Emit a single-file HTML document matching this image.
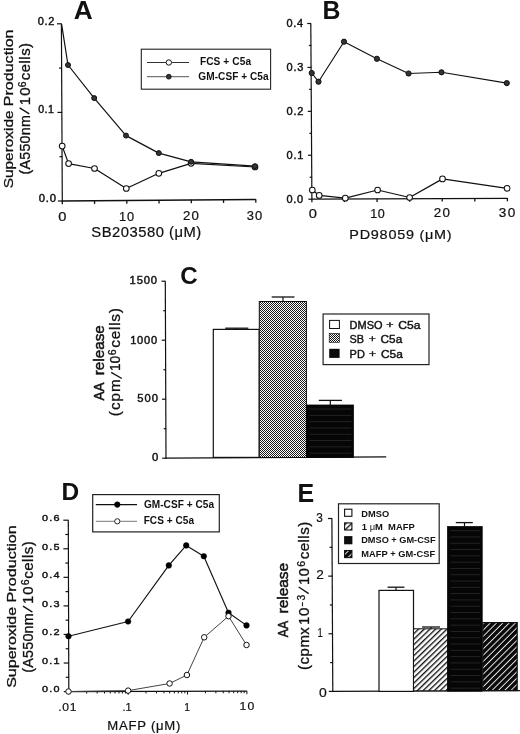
<!DOCTYPE html>
<html><head><meta charset="utf-8"><style>
html,body{margin:0;padding:0;background:#fff;}
svg{display:block;font-family:"Liberation Sans", sans-serif;will-change:transform;}
</style></head><body>
<svg width="520" height="734" viewBox="0 0 520 734">
<rect width="520" height="734" fill="#fff"/>
<defs><pattern id="chk" width="2" height="2" patternUnits="userSpaceOnUse"><rect width="2" height="2" fill="#fff"/><rect width="1" height="1" fill="#181818"/><rect x="1" y="1" width="1" height="1" fill="#181818"/></pattern><pattern id="h1" width="3.95" height="3.95" patternUnits="userSpaceOnUse" patternTransform="rotate(46)"><rect width="3.95" height="3.95" fill="#fff"/><rect width="1.35" height="3.95" fill="#111"/></pattern><pattern id="h2" width="4.45" height="4.45" patternUnits="userSpaceOnUse" patternTransform="rotate(45)"><rect width="4.45" height="4.45" fill="#eee"/><rect width="3.5" height="4.45" fill="#0a0a0a"/></pattern><pattern id="blk" width="40" height="6.3" patternUnits="userSpaceOnUse"><rect width="40" height="6.3" fill="#0a0a0a"/><rect x="4" y="3" width="28" height="1" fill="#2c2c2c"/></pattern></defs>
<text transform="translate(73.68,18.50) scale(1.0301,1)" font-size="25.5" font-weight="700" style="letter-spacing:0.000px;white-space:pre" fill="#111" >A</text>
<line x1="62.30" y1="201.00" x2="61.40" y2="23.80" stroke="#111" stroke-width="1.2" />
<line x1="57.90" y1="201.00" x2="62.60" y2="201.00" stroke="#111" stroke-width="1.2" />
<line x1="59.47" y1="156.70" x2="62.37" y2="156.70" stroke="#111" stroke-width="1.2" />
<line x1="57.45" y1="112.40" x2="62.15" y2="112.40" stroke="#111" stroke-width="1.2" />
<line x1="59.02" y1="68.10" x2="61.92" y2="68.10" stroke="#111" stroke-width="1.2" />
<line x1="57.00" y1="23.80" x2="61.70" y2="23.80" stroke="#111" stroke-width="1.2" />
<line x1="61.80" y1="201.00" x2="255.80" y2="199.50" stroke="#111" stroke-width="1.3" />
<line x1="62.30" y1="200.70" x2="62.30" y2="204.20" stroke="#111" stroke-width="1.3" />
<line x1="94.55" y1="200.45" x2="94.55" y2="203.95" stroke="#111" stroke-width="1.3" />
<line x1="126.80" y1="200.20" x2="126.80" y2="203.70" stroke="#111" stroke-width="1.3" />
<line x1="159.05" y1="199.95" x2="159.05" y2="203.45" stroke="#111" stroke-width="1.3" />
<line x1="191.30" y1="199.70" x2="191.30" y2="203.20" stroke="#111" stroke-width="1.3" />
<line x1="223.55" y1="199.45" x2="223.55" y2="202.95" stroke="#111" stroke-width="1.3" />
<line x1="255.80" y1="199.20" x2="255.80" y2="202.70" stroke="#111" stroke-width="1.3" />
<text transform="translate(38.66,201.50) scale(1.1288,1)" font-size="10.0" font-weight="400" style="letter-spacing:0.749px;white-space:pre" fill="#111" stroke="#111" stroke-width="0.4">0.0</text>
<text transform="translate(38.18,113.30) scale(1.0682,1)" font-size="10.0" font-weight="400" style="letter-spacing:0.416px;white-space:pre" fill="#111" stroke="#111" stroke-width="0.4">0.1</text>
<text transform="translate(37.77,24.60) scale(1.1035,1)" font-size="10.0" font-weight="400" style="letter-spacing:0.610px;white-space:pre" fill="#111" stroke="#111" stroke-width="0.4">0.2</text>
<text transform="translate(58.37,221.00) scale(1.2225,1)" font-size="12" font-weight="400" style="letter-spacing:0.000px;white-space:pre" fill="#111" stroke="#111" stroke-width="0.2">0</text>
<text transform="translate(119.03,220.60) scale(1.0642,1)" font-size="12" font-weight="400" style="letter-spacing:0.721px;white-space:pre" fill="#111" stroke="#111" stroke-width="0.2">10</text>
<text transform="translate(182.94,220.00) scale(1.0988,1)" font-size="12" font-weight="400" style="letter-spacing:1.103px;white-space:pre" fill="#111" stroke="#111" stroke-width="0.2">20</text>
<text transform="translate(246.81,219.80) scale(1.0796,1)" font-size="12" font-weight="400" style="letter-spacing:0.916px;white-space:pre" fill="#111" stroke="#111" stroke-width="0.2">30</text>
<text transform="translate(91.33,237.30) scale(1.0638,1)" font-size="13.9" font-weight="400" style="letter-spacing:0.480px;white-space:pre" fill="#111" stroke="#111" stroke-width="0.2">SB203580 (μM)</text>
<text transform="translate(12.70,188.30) rotate(-90)" font-size="12.8" font-weight="400" text-anchor="start" textLength="82.10" lengthAdjust="spacingAndGlyphs" fill="#111" stroke="#111" stroke-width="0.3" style="white-space:pre">Superoxide </text>
<text transform="translate(12.70,106.20) rotate(-90)" font-size="12.8" font-weight="400" text-anchor="start" textLength="76.70" lengthAdjust="spacingAndGlyphs" fill="#111" stroke="#111" stroke-width="0.3" style="white-space:pre">Production</text>
<line x1="29.30" y1="113.90" x2="19.60" y2="107.90" stroke="#111" stroke-width="1.3" />
<text transform="translate(29.50,173.60) rotate(-90) translate(-0.88,0) scale(1.0302,1)" font-size="13.8" font-weight="400" style="letter-spacing:0.265px;white-space:pre" fill="#111" stroke="#111" stroke-width="0.3">(A550nm</text>
<text transform="translate(29.50,104.00) rotate(-90) translate(-1.14,0) scale(1.0850,1)" font-size="13.8" font-weight="400" style="letter-spacing:1.078px;white-space:pre" fill="#111" stroke="#111" stroke-width="0.3">10</text>
<text transform="translate(25.50,86.73) rotate(-90) translate(-0.52,0) scale(0.9806,1)" font-size="10.5" font-weight="400" style="letter-spacing:0.000px;white-space:pre" fill="#111" stroke="#111" stroke-width="0.3">6</text>
<text transform="translate(29.50,79.60) rotate(-90) translate(-0.63,0) scale(1.0819,1)" font-size="13.8" font-weight="400" style="letter-spacing:0.466px;white-space:pre" fill="#111" stroke="#111" stroke-width="0.3">cells)</text>
<polyline points="62.20,146.10 68.60,163.60 94.50,168.50 126.30,188.50 158.80,173.30 191.10,163.30 255.00,167.00" fill="none" stroke="#111" stroke-width="1.25" stroke-linejoin="round"/>
<polyline points="61.60,24.20 68.00,65.00 94.20,98.10 126.00,135.60 158.80,153.10 191.10,161.80 255.00,166.20" fill="none" stroke="#111" stroke-width="1.2" stroke-linejoin="round"/>
<circle cx="62.20" cy="146.10" r="2.85" fill="#fff" stroke="#111" stroke-width="1.05"/>
<circle cx="68.60" cy="163.60" r="2.85" fill="#fff" stroke="#111" stroke-width="1.05"/>
<circle cx="94.50" cy="168.50" r="2.85" fill="#fff" stroke="#111" stroke-width="1.05"/>
<circle cx="126.30" cy="188.50" r="2.85" fill="#fff" stroke="#111" stroke-width="1.05"/>
<circle cx="158.80" cy="173.30" r="2.85" fill="#fff" stroke="#111" stroke-width="1.05"/>
<circle cx="191.10" cy="163.30" r="2.85" fill="#fff" stroke="#111" stroke-width="1.05"/>
<circle cx="255.00" cy="167.00" r="2.85" fill="#fff" stroke="#111" stroke-width="1.05"/>
<circle cx="68.00" cy="65.00" r="2.5" fill="#333" stroke="#111" stroke-width="1.0"/>
<circle cx="94.20" cy="98.10" r="2.5" fill="#333" stroke="#111" stroke-width="1.0"/>
<circle cx="126.00" cy="135.60" r="2.5" fill="#333" stroke="#111" stroke-width="1.0"/>
<circle cx="158.80" cy="153.10" r="2.5" fill="#333" stroke="#111" stroke-width="1.0"/>
<circle cx="191.10" cy="161.80" r="2.5" fill="#333" stroke="#111" stroke-width="1.0"/>
<circle cx="255.00" cy="166.20" r="2.5" fill="#333" stroke="#111" stroke-width="1.0"/>
<rect x="141.3" y="49.2" width="129.3" height="40" fill="#fff" stroke="#222" stroke-width="1.1"/>
<line x1="147.00" y1="62.50" x2="189.00" y2="62.50" stroke="#333" stroke-width="1.0" />
<circle cx="168.80" cy="62.50" r="2.7" fill="#fff" stroke="#111" stroke-width="1.0"/>
<line x1="147.00" y1="76.70" x2="189.00" y2="76.70" stroke="#555" stroke-width="1.0" />
<circle cx="168.80" cy="76.70" r="2.4" fill="#333" stroke="#111" stroke-width="0.9"/>
<text transform="translate(199.92,65.10) scale(1.0149,1)" font-size="10" font-weight="700" style="letter-spacing:0.090px;white-space:pre" fill="#111" >FCS + C5a</text>
<text transform="translate(198.29,80.40) scale(1.0092,1)" font-size="10" font-weight="700" style="letter-spacing:0.057px;white-space:pre" fill="#111" >GM-CSF + C5a</text>
<text transform="translate(322.41,18.50) scale(0.9938,1)" font-size="25" font-weight="700" style="letter-spacing:0.000px;white-space:pre" fill="#111" >B</text>
<line x1="311.90" y1="199.20" x2="310.80" y2="23.50" stroke="#111" stroke-width="1.2" />
<line x1="308.30" y1="199.20" x2="312.20" y2="199.20" stroke="#111" stroke-width="1.2" />
<line x1="309.66" y1="177.24" x2="312.06" y2="177.24" stroke="#111" stroke-width="1.2" />
<line x1="308.02" y1="155.27" x2="311.93" y2="155.27" stroke="#111" stroke-width="1.2" />
<line x1="309.39" y1="133.31" x2="311.79" y2="133.31" stroke="#111" stroke-width="1.2" />
<line x1="307.75" y1="111.35" x2="311.65" y2="111.35" stroke="#111" stroke-width="1.2" />
<line x1="309.11" y1="89.39" x2="311.51" y2="89.39" stroke="#111" stroke-width="1.2" />
<line x1="307.47" y1="67.43" x2="311.38" y2="67.43" stroke="#111" stroke-width="1.2" />
<line x1="308.84" y1="45.46" x2="311.24" y2="45.46" stroke="#111" stroke-width="1.2" />
<line x1="307.20" y1="23.50" x2="311.10" y2="23.50" stroke="#111" stroke-width="1.2" />
<line x1="311.40" y1="199.20" x2="507.40" y2="198.30" stroke="#111" stroke-width="1.3" />
<line x1="311.90" y1="198.90" x2="311.90" y2="202.20" stroke="#111" stroke-width="1.3" />
<line x1="344.48" y1="198.75" x2="344.48" y2="202.05" stroke="#111" stroke-width="1.3" />
<line x1="377.07" y1="198.60" x2="377.07" y2="201.90" stroke="#111" stroke-width="1.3" />
<line x1="409.65" y1="198.45" x2="409.65" y2="201.75" stroke="#111" stroke-width="1.3" />
<line x1="442.23" y1="198.30" x2="442.23" y2="201.60" stroke="#111" stroke-width="1.3" />
<line x1="474.82" y1="198.15" x2="474.82" y2="201.45" stroke="#111" stroke-width="1.3" />
<line x1="507.40" y1="198.00" x2="507.40" y2="201.30" stroke="#111" stroke-width="1.3" />
<text transform="translate(286.57,202.70) scale(1.1021,1)" font-size="10.0" font-weight="400" style="letter-spacing:0.608px;white-space:pre" fill="#111" stroke="#111" stroke-width="0.4">0.0</text>
<text transform="translate(286.57,158.77) scale(1.1066,1)" font-size="10.0" font-weight="400" style="letter-spacing:0.627px;white-space:pre" fill="#111" stroke="#111" stroke-width="0.4">0.1</text>
<text transform="translate(286.57,114.85) scale(1.1073,1)" font-size="10.0" font-weight="400" style="letter-spacing:0.630px;white-space:pre" fill="#111" stroke="#111" stroke-width="0.4">0.2</text>
<text transform="translate(286.57,70.93) scale(1.1044,1)" font-size="10.0" font-weight="400" style="letter-spacing:0.618px;white-space:pre" fill="#111" stroke="#111" stroke-width="0.4">0.3</text>
<text transform="translate(286.57,27.00) scale(1.0977,1)" font-size="10.0" font-weight="400" style="letter-spacing:0.588px;white-space:pre" fill="#111" stroke="#111" stroke-width="0.4">0.4</text>
<text transform="translate(308.67,217.90) scale(1.2225,1)" font-size="12" font-weight="400" style="letter-spacing:0.000px;white-space:pre" fill="#111" stroke="#111" stroke-width="0.2">0</text>
<text transform="translate(370.24,217.50) scale(1.0474,1)" font-size="12" font-weight="400" style="letter-spacing:0.542px;white-space:pre" fill="#111" stroke="#111" stroke-width="0.2">10</text>
<text transform="translate(433.63,217.00) scale(1.1151,1)" font-size="12" font-weight="400" style="letter-spacing:1.267px;white-space:pre" fill="#111" stroke="#111" stroke-width="0.2">20</text>
<text transform="translate(498.68,216.90) scale(1.1279,1)" font-size="12" font-weight="400" style="letter-spacing:1.409px;white-space:pre" fill="#111" stroke="#111" stroke-width="0.2">30</text>
<text transform="translate(349.32,238.80) scale(1.1001,1)" font-size="13.1" font-weight="400" style="letter-spacing:0.691px;white-space:pre" fill="#111" stroke="#111" stroke-width="0.2">PD98059 (μM)</text>
<polyline points="312.30,190.00 319.20,195.40 345.30,198.20 377.60,190.00 409.60,197.50 442.50,178.90 507.10,188.30" fill="none" stroke="#111" stroke-width="1.25" stroke-linejoin="round"/>
<polyline points="311.70,73.00 318.50,81.70 344.00,41.70 376.90,58.80 408.60,73.50 441.50,72.30 506.80,83.10" fill="none" stroke="#111" stroke-width="1.15" stroke-linejoin="round"/>
<circle cx="312.30" cy="190.00" r="2.85" fill="#fff" stroke="#111" stroke-width="1.05"/>
<circle cx="319.20" cy="195.40" r="2.85" fill="#fff" stroke="#111" stroke-width="1.05"/>
<circle cx="345.30" cy="198.20" r="2.85" fill="#fff" stroke="#111" stroke-width="1.05"/>
<circle cx="377.60" cy="190.00" r="2.85" fill="#fff" stroke="#111" stroke-width="1.05"/>
<circle cx="409.60" cy="197.50" r="2.85" fill="#fff" stroke="#111" stroke-width="1.05"/>
<circle cx="442.50" cy="178.90" r="2.85" fill="#fff" stroke="#111" stroke-width="1.05"/>
<circle cx="507.10" cy="188.30" r="2.85" fill="#fff" stroke="#111" stroke-width="1.05"/>
<circle cx="311.70" cy="73.00" r="2.6" fill="#333" stroke="#111" stroke-width="1.0"/>
<circle cx="318.50" cy="81.70" r="2.6" fill="#333" stroke="#111" stroke-width="1.0"/>
<circle cx="344.00" cy="41.70" r="2.6" fill="#333" stroke="#111" stroke-width="1.0"/>
<circle cx="376.90" cy="58.80" r="2.6" fill="#333" stroke="#111" stroke-width="1.0"/>
<circle cx="408.60" cy="73.50" r="2.6" fill="#333" stroke="#111" stroke-width="1.0"/>
<circle cx="441.50" cy="72.30" r="2.6" fill="#333" stroke="#111" stroke-width="1.0"/>
<circle cx="506.80" cy="83.10" r="2.6" fill="#333" stroke="#111" stroke-width="1.0"/>
<text transform="translate(180.15,283.50) scale(0.9871,1)" font-size="24.5" font-weight="700" style="letter-spacing:0.000px;white-space:pre" fill="#111" >C</text>
<line x1="166.00" y1="458.20" x2="165.30" y2="281.20" stroke="#111" stroke-width="1.2" />
<line x1="162.20" y1="458.20" x2="166.30" y2="458.20" stroke="#111" stroke-width="1.2" />
<line x1="163.68" y1="428.70" x2="166.18" y2="428.70" stroke="#111" stroke-width="1.2" />
<line x1="161.97" y1="399.20" x2="166.07" y2="399.20" stroke="#111" stroke-width="1.2" />
<line x1="163.45" y1="369.70" x2="165.95" y2="369.70" stroke="#111" stroke-width="1.2" />
<line x1="161.73" y1="340.20" x2="165.83" y2="340.20" stroke="#111" stroke-width="1.2" />
<line x1="163.22" y1="310.70" x2="165.72" y2="310.70" stroke="#111" stroke-width="1.2" />
<line x1="161.50" y1="281.20" x2="165.60" y2="281.20" stroke="#111" stroke-width="1.2" />
<line x1="165.50" y1="458.20" x2="386.20" y2="456.80" stroke="#111" stroke-width="1.3" />
<text transform="translate(129.55,284.20) scale(1.1210,1)" font-size="10.0" font-weight="400" style="letter-spacing:0.759px;white-space:pre" fill="#111" stroke="#111" stroke-width="0.4">1500</text>
<text transform="translate(130.15,343.50) scale(1.1116,1)" font-size="10.0" font-weight="400" style="letter-spacing:0.706px;white-space:pre" fill="#111" stroke="#111" stroke-width="0.4">1000</text>
<text transform="translate(137.35,402.20) scale(1.1197,1)" font-size="10.0" font-weight="400" style="letter-spacing:0.850px;white-space:pre" fill="#111" stroke="#111" stroke-width="0.4">500</text>
<text transform="translate(152.03,461.30) scale(1.1387,1)" font-size="10.0" font-weight="400" style="letter-spacing:0.000px;white-space:pre" fill="#111" stroke="#111" stroke-width="0.4">0</text>
<text transform="translate(104.20,400.50) rotate(-90)" font-size="14.2" font-weight="400" text-anchor="start" textLength="17.90" lengthAdjust="spacingAndGlyphs" fill="#111" stroke="#111" stroke-width="0.5" style="white-space:pre">AA</text>
<text transform="translate(104.20,375.30) rotate(-90)" font-size="14.2" font-weight="400" text-anchor="start" textLength="50.10" lengthAdjust="spacingAndGlyphs" fill="#111" stroke="#111" stroke-width="0.5" style="white-space:pre">release</text>
<line x1="121.80" y1="378.50" x2="111.20" y2="372.40" stroke="#111" stroke-width="1.3" />
<text transform="translate(119.80,415.20) rotate(-90) translate(-0.94,0) scale(1.1038,1)" font-size="13.8" font-weight="400" style="letter-spacing:0.906px;white-space:pre" fill="#111" stroke="#111" stroke-width="0.3">(cpm</text>
<text transform="translate(119.80,370.00) rotate(-90) translate(-1.05,0) scale(0.9978,1)" font-size="13.8" font-weight="400" style="letter-spacing:-0.030px;white-space:pre" fill="#111" stroke="#111" stroke-width="0.3">10</text>
<text transform="translate(115.80,354.67) rotate(-90) translate(-0.53,0) scale(1.0201,1)" font-size="10.3" font-weight="400" style="letter-spacing:0.000px;white-space:pre" fill="#111" stroke="#111" stroke-width="0.3">6</text>
<text transform="translate(119.80,347.00) rotate(-90) translate(-0.65,0) scale(1.1161,1)" font-size="13.8" font-weight="400" style="letter-spacing:0.640px;white-space:pre" fill="#111" stroke="#111" stroke-width="0.3">cells)</text>
<rect x="213.3" y="329.4" width="45.9" height="128" fill="#fff" stroke="#111" stroke-width="1.2"/>
<line x1="236.50" y1="329.40" x2="236.50" y2="328.20" stroke="#111" stroke-width="1.2" />
<line x1="225.20" y1="328.20" x2="248.30" y2="328.20" stroke="#111" stroke-width="1.3" />
<rect x="259.3" y="301.5" width="47.1" height="156" fill="url(#chk)" stroke="#111" stroke-width="1.0"/>
<line x1="283.00" y1="301.50" x2="283.00" y2="297.00" stroke="#111" stroke-width="1.2" />
<line x1="271.70" y1="297.00" x2="294.50" y2="297.00" stroke="#111" stroke-width="1.3" />
<rect x="306.4" y="405" width="47" height="52.5" fill="#060606" stroke="#060606" stroke-width="0.8"/>
<rect x="309.4" y="408.6" width="42.0" height="0.9" fill="#262626"/>
<rect x="309.4" y="414.9" width="42.0" height="0.9" fill="#262626"/>
<rect x="309.4" y="421.2" width="42.0" height="0.9" fill="#262626"/>
<rect x="309.4" y="427.5" width="42.0" height="0.9" fill="#262626"/>
<rect x="309.4" y="433.8" width="42.0" height="0.9" fill="#262626"/>
<rect x="309.4" y="440.1" width="42.0" height="0.9" fill="#262626"/>
<rect x="309.4" y="446.4" width="42.0" height="0.9" fill="#262626"/>
<rect x="309.4" y="452.7" width="42.0" height="0.9" fill="#262626"/>
<line x1="330.30" y1="405.00" x2="330.30" y2="400.40" stroke="#111" stroke-width="1.2" />
<line x1="318.80" y1="400.40" x2="341.90" y2="400.40" stroke="#111" stroke-width="1.3" />
<rect x="323.1" y="314" width="105.9" height="50.6" fill="#fff" stroke="#222" stroke-width="1.2"/>
<rect x="329.6" y="320.4" width="9.8" height="8.1" fill="#fff" stroke="#111" stroke-width="1"/>
<rect x="329.2" y="333.3" width="10.4" height="9.1" fill="url(#chk)" stroke="#111" stroke-width="0.6"/>
<rect x="329.2" y="348.8" width="10.4" height="9.1" fill="#0d0d0d"/>
<text x="349.60" y="328.70" font-size="10.4" font-weight="400" text-anchor="start" textLength="32.90" lengthAdjust="spacingAndGlyphs" fill="#111" stroke="#111" stroke-width="0.4">DMSO</text>
<text x="386.30" y="328.10" font-size="8.84" font-weight="400" text-anchor="start" textLength="7.20" lengthAdjust="spacingAndGlyphs" fill="#111" stroke="#111" stroke-width="0.4">+</text>
<text x="398.20" y="328.70" font-size="10.4" font-weight="400" text-anchor="start" textLength="22.20" lengthAdjust="spacingAndGlyphs" fill="#111" stroke="#111" stroke-width="0.4">C5a</text>
<text x="349.60" y="343.00" font-size="10.4" font-weight="400" text-anchor="start" textLength="14.50" lengthAdjust="spacingAndGlyphs" fill="#111" stroke="#111" stroke-width="0.4">SB</text>
<text x="369.10" y="342.40" font-size="8.84" font-weight="400" text-anchor="start" textLength="6.70" lengthAdjust="spacingAndGlyphs" fill="#111" stroke="#111" stroke-width="0.4">+</text>
<text x="380.60" y="343.00" font-size="10.4" font-weight="400" text-anchor="start" textLength="21.60" lengthAdjust="spacingAndGlyphs" fill="#111" stroke="#111" stroke-width="0.4">C5a</text>
<text x="349.60" y="358.00" font-size="10.4" font-weight="400" text-anchor="start" textLength="15.20" lengthAdjust="spacingAndGlyphs" fill="#111" stroke="#111" stroke-width="0.4">PD</text>
<text x="369.10" y="357.40" font-size="8.84" font-weight="400" text-anchor="start" textLength="7.00" lengthAdjust="spacingAndGlyphs" fill="#111" stroke="#111" stroke-width="0.4">+</text>
<text x="381.00" y="358.00" font-size="10.4" font-weight="400" text-anchor="start" textLength="21.80" lengthAdjust="spacingAndGlyphs" fill="#111" stroke="#111" stroke-width="0.4">C5a</text>
<text transform="translate(61.46,500.40) scale(0.9989,1)" font-size="24.5" font-weight="700" style="letter-spacing:0.000px;white-space:pre" fill="#111" >D</text>
<line x1="68.80" y1="691.60" x2="68.30" y2="520.20" stroke="#111" stroke-width="1.2" />
<line x1="63.80" y1="691.60" x2="69.10" y2="691.60" stroke="#111" stroke-width="1.2" />
<line x1="65.76" y1="677.32" x2="69.06" y2="677.32" stroke="#111" stroke-width="1.2" />
<line x1="63.72" y1="663.03" x2="69.02" y2="663.03" stroke="#111" stroke-width="1.2" />
<line x1="65.67" y1="648.75" x2="68.97" y2="648.75" stroke="#111" stroke-width="1.2" />
<line x1="63.63" y1="634.47" x2="68.93" y2="634.47" stroke="#111" stroke-width="1.2" />
<line x1="65.59" y1="620.18" x2="68.89" y2="620.18" stroke="#111" stroke-width="1.2" />
<line x1="63.55" y1="605.90" x2="68.85" y2="605.90" stroke="#111" stroke-width="1.2" />
<line x1="65.51" y1="591.62" x2="68.81" y2="591.62" stroke="#111" stroke-width="1.2" />
<line x1="63.47" y1="577.33" x2="68.77" y2="577.33" stroke="#111" stroke-width="1.2" />
<line x1="65.42" y1="563.05" x2="68.72" y2="563.05" stroke="#111" stroke-width="1.2" />
<line x1="63.38" y1="548.77" x2="68.68" y2="548.77" stroke="#111" stroke-width="1.2" />
<line x1="65.34" y1="534.48" x2="68.64" y2="534.48" stroke="#111" stroke-width="1.2" />
<line x1="63.30" y1="520.20" x2="68.60" y2="520.20" stroke="#111" stroke-width="1.2" />
<line x1="68.30" y1="691.60" x2="246.90" y2="691.20" stroke="#111" stroke-width="1.3" />
<line x1="68.80" y1="691.30" x2="68.80" y2="694.60" stroke="#111" stroke-width="1.0" />
<line x1="86.67" y1="691.26" x2="86.67" y2="693.56" stroke="#111" stroke-width="1.0" />
<line x1="97.13" y1="691.24" x2="97.13" y2="693.54" stroke="#111" stroke-width="1.0" />
<line x1="104.54" y1="691.22" x2="104.54" y2="693.52" stroke="#111" stroke-width="1.0" />
<line x1="110.30" y1="691.21" x2="110.30" y2="693.51" stroke="#111" stroke-width="1.0" />
<line x1="115.00" y1="691.20" x2="115.00" y2="693.50" stroke="#111" stroke-width="1.0" />
<line x1="118.97" y1="691.19" x2="118.97" y2="693.49" stroke="#111" stroke-width="1.0" />
<line x1="122.41" y1="691.18" x2="122.41" y2="693.48" stroke="#111" stroke-width="1.0" />
<line x1="125.45" y1="691.17" x2="125.45" y2="693.47" stroke="#111" stroke-width="1.0" />
<line x1="128.17" y1="691.17" x2="128.17" y2="694.47" stroke="#111" stroke-width="1.0" />
<line x1="128.17" y1="691.17" x2="128.17" y2="694.47" stroke="#111" stroke-width="1.0" />
<line x1="146.04" y1="691.13" x2="146.04" y2="693.43" stroke="#111" stroke-width="1.0" />
<line x1="156.49" y1="691.10" x2="156.49" y2="693.40" stroke="#111" stroke-width="1.0" />
<line x1="163.91" y1="691.09" x2="163.91" y2="693.39" stroke="#111" stroke-width="1.0" />
<line x1="169.66" y1="691.07" x2="169.66" y2="693.37" stroke="#111" stroke-width="1.0" />
<line x1="174.36" y1="691.06" x2="174.36" y2="693.36" stroke="#111" stroke-width="1.0" />
<line x1="178.34" y1="691.05" x2="178.34" y2="693.35" stroke="#111" stroke-width="1.0" />
<line x1="181.78" y1="691.05" x2="181.78" y2="693.35" stroke="#111" stroke-width="1.0" />
<line x1="184.82" y1="691.04" x2="184.82" y2="693.34" stroke="#111" stroke-width="1.0" />
<line x1="187.53" y1="691.03" x2="187.53" y2="694.33" stroke="#111" stroke-width="1.0" />
<line x1="187.53" y1="691.03" x2="187.53" y2="694.33" stroke="#111" stroke-width="1.0" />
<line x1="205.40" y1="690.99" x2="205.40" y2="693.29" stroke="#111" stroke-width="1.0" />
<line x1="215.86" y1="690.97" x2="215.86" y2="693.27" stroke="#111" stroke-width="1.0" />
<line x1="223.28" y1="690.95" x2="223.28" y2="693.25" stroke="#111" stroke-width="1.0" />
<line x1="229.03" y1="690.94" x2="229.03" y2="693.24" stroke="#111" stroke-width="1.0" />
<line x1="233.73" y1="690.93" x2="233.73" y2="693.23" stroke="#111" stroke-width="1.0" />
<line x1="237.70" y1="690.92" x2="237.70" y2="693.22" stroke="#111" stroke-width="1.0" />
<line x1="241.15" y1="690.91" x2="241.15" y2="693.21" stroke="#111" stroke-width="1.0" />
<line x1="244.18" y1="690.91" x2="244.18" y2="693.21" stroke="#111" stroke-width="1.0" />
<line x1="246.90" y1="690.90" x2="246.90" y2="694.20" stroke="#111" stroke-width="1.0" />
<text transform="translate(42.08,692.40) scale(1.2029,1)" font-size="9.0" font-weight="400" style="letter-spacing:0.996px;white-space:pre" fill="#111" stroke="#111" stroke-width="0.4">0.0</text>
<text transform="translate(42.08,663.83) scale(1.2082,1)" font-size="9.0" font-weight="400" style="letter-spacing:1.010px;white-space:pre" fill="#111" stroke="#111" stroke-width="0.4">0.1</text>
<text transform="translate(42.07,635.27) scale(1.2090,1)" font-size="9.0" font-weight="400" style="letter-spacing:1.012px;white-space:pre" fill="#111" stroke="#111" stroke-width="0.4">0.2</text>
<text transform="translate(42.08,606.70) scale(1.2055,1)" font-size="9.0" font-weight="400" style="letter-spacing:1.003px;white-space:pre" fill="#111" stroke="#111" stroke-width="0.4">0.3</text>
<text transform="translate(42.08,578.13) scale(1.1977,1)" font-size="9.0" font-weight="400" style="letter-spacing:0.982px;white-space:pre" fill="#111" stroke="#111" stroke-width="0.4">0.4</text>
<text transform="translate(42.08,549.57) scale(1.2045,1)" font-size="9.0" font-weight="400" style="letter-spacing:1.000px;white-space:pre" fill="#111" stroke="#111" stroke-width="0.4">0.5</text>
<text transform="translate(42.08,521.00) scale(1.2055,1)" font-size="9.0" font-weight="400" style="letter-spacing:1.003px;white-space:pre" fill="#111" stroke="#111" stroke-width="0.4">0.6</text>
<text transform="translate(58.20,711.20) scale(1.1000,1)" font-size="11" font-weight="400" style="letter-spacing:0.625px;white-space:pre" fill="#111" stroke="#111" stroke-width="0.2">.01</text>
<text transform="translate(122.49,711.10) scale(1.0044,1)" font-size="11" font-weight="400" style="letter-spacing:0.034px;white-space:pre" fill="#111" stroke="#111" stroke-width="0.2">.1</text>
<text transform="translate(184.24,710.50) scale(0.9393,1)" font-size="11" font-weight="400" style="letter-spacing:0.000px;white-space:pre" fill="#111" stroke="#111" stroke-width="0.2">1</text>
<text transform="translate(239.47,710.40) scale(1.1109,1)" font-size="11" font-weight="400" style="letter-spacing:1.095px;white-space:pre" fill="#111" stroke="#111" stroke-width="0.2">10</text>
<text transform="translate(107.22,729.60) scale(1.1033,1)" font-size="11.9" font-weight="400" style="letter-spacing:0.694px;white-space:pre" fill="#111" stroke="#111" stroke-width="0.2">MAFP (μM)</text>
<text transform="translate(15.60,687.80) rotate(-90)" font-size="13.5" font-weight="400" text-anchor="start" textLength="85.40" lengthAdjust="spacingAndGlyphs" fill="#111" stroke="#111" stroke-width="0.3" style="white-space:pre">Superoxide </text>
<text transform="translate(15.60,602.40) rotate(-90)" font-size="13.5" font-weight="400" text-anchor="start" textLength="77.10" lengthAdjust="spacingAndGlyphs" fill="#111" stroke="#111" stroke-width="0.3" style="white-space:pre">Production</text>
<line x1="32.40" y1="612.10" x2="23.00" y2="606.10" stroke="#111" stroke-width="1.3" />
<text transform="translate(32.70,671.80) rotate(-90) translate(-0.89,0) scale(1.0235,1)" font-size="14.0" font-weight="400" style="letter-spacing:0.210px;white-space:pre" fill="#111" stroke="#111" stroke-width="0.3">(A550nm</text>
<text transform="translate(32.70,602.80) rotate(-90) translate(-1.14,0) scale(1.0659,1)" font-size="14.0" font-weight="400" style="letter-spacing:0.864px;white-space:pre" fill="#111" stroke="#111" stroke-width="0.3">10</text>
<text transform="translate(28.70,584.79) rotate(-90) translate(-0.54,0) scale(1.0074,1)" font-size="10.5" font-weight="400" style="letter-spacing:0.000px;white-space:pre" fill="#111" stroke="#111" stroke-width="0.3">6</text>
<text transform="translate(32.70,578.10) rotate(-90) translate(-0.64,0) scale(1.0752,1)" font-size="14.0" font-weight="400" style="letter-spacing:0.437px;white-space:pre" fill="#111" stroke="#111" stroke-width="0.3">cells)</text>
<polyline points="68.50,636.20 128.10,621.50 168.80,565.40 186.20,545.40 203.80,556.20 228.50,612.70 246.50,625.40" fill="none" stroke="#111" stroke-width="1.15" stroke-linejoin="round"/>
<polyline points="68.50,691.50 128.10,690.60 169.60,683.50 186.90,675.00 204.20,637.30 228.50,616.20 246.50,645.00" fill="none" stroke="#444" stroke-width="1.0" stroke-linejoin="round"/>
<circle cx="68.50" cy="636.20" r="2.8" fill="#000" stroke="#000" stroke-width="0.5"/>
<circle cx="128.10" cy="621.50" r="2.8" fill="#000" stroke="#000" stroke-width="0.5"/>
<circle cx="168.80" cy="565.40" r="2.8" fill="#000" stroke="#000" stroke-width="0.5"/>
<circle cx="186.20" cy="545.40" r="2.8" fill="#000" stroke="#000" stroke-width="0.5"/>
<circle cx="203.80" cy="556.20" r="2.8" fill="#000" stroke="#000" stroke-width="0.5"/>
<circle cx="228.50" cy="612.70" r="2.8" fill="#000" stroke="#000" stroke-width="0.5"/>
<circle cx="246.50" cy="625.40" r="2.8" fill="#000" stroke="#000" stroke-width="0.5"/>
<circle cx="68.50" cy="691.50" r="2.75" fill="#fff" stroke="#111" stroke-width="1.0"/>
<circle cx="128.10" cy="690.60" r="2.75" fill="#fff" stroke="#111" stroke-width="1.0"/>
<circle cx="169.60" cy="683.50" r="2.75" fill="#fff" stroke="#111" stroke-width="1.0"/>
<circle cx="186.90" cy="675.00" r="2.75" fill="#fff" stroke="#111" stroke-width="1.0"/>
<circle cx="204.20" cy="637.30" r="2.75" fill="#fff" stroke="#111" stroke-width="1.0"/>
<circle cx="228.50" cy="616.20" r="2.75" fill="#fff" stroke="#111" stroke-width="1.0"/>
<circle cx="246.50" cy="645.00" r="2.75" fill="#fff" stroke="#111" stroke-width="1.0"/>
<rect x="92.7" y="494.6" width="126.6" height="37.3" fill="#fff" stroke="#222" stroke-width="1.2"/>
<line x1="95.80" y1="504.60" x2="137.00" y2="504.60" stroke="#111" stroke-width="1.2" />
<circle cx="117.30" cy="504.60" r="2.8" fill="#000" stroke="#000" stroke-width="0.5"/>
<line x1="95.80" y1="521.30" x2="137.00" y2="521.30" stroke="#777" stroke-width="1.0" />
<circle cx="117.30" cy="521.30" r="2.6" fill="#fff" stroke="#111" stroke-width="0.9"/>
<text transform="translate(143.89,507.60) scale(1.0078,1)" font-size="10" font-weight="700" style="letter-spacing:0.048px;white-space:pre" fill="#111" >GM-CSF + C5a</text>
<text transform="translate(143.63,523.80) scale(1.0078,1)" font-size="10" font-weight="700" style="letter-spacing:0.047px;white-space:pre" fill="#111" >FCS + C5a</text>
<text transform="translate(297.43,501.90) scale(0.9988,1)" font-size="25" font-weight="700" style="letter-spacing:0.000px;white-space:pre" fill="#111" >E</text>
<line x1="332.80" y1="691.40" x2="331.90" y2="518.50" stroke="#111" stroke-width="1.2" />
<line x1="328.80" y1="691.40" x2="333.10" y2="691.40" stroke="#111" stroke-width="1.2" />
<line x1="330.15" y1="662.58" x2="332.95" y2="662.58" stroke="#111" stroke-width="1.2" />
<line x1="328.50" y1="633.77" x2="332.80" y2="633.77" stroke="#111" stroke-width="1.2" />
<line x1="329.85" y1="604.95" x2="332.65" y2="604.95" stroke="#111" stroke-width="1.2" />
<line x1="328.20" y1="576.13" x2="332.50" y2="576.13" stroke="#111" stroke-width="1.2" />
<line x1="329.55" y1="547.32" x2="332.35" y2="547.32" stroke="#111" stroke-width="1.2" />
<line x1="327.90" y1="518.50" x2="332.20" y2="518.50" stroke="#111" stroke-width="1.2" />
<line x1="332.30" y1="691.40" x2="521.00" y2="690.60" stroke="#111" stroke-width="1.3" />
<text transform="translate(316.23,521.50) scale(0.9284,1)" font-size="12.8" font-weight="400" style="letter-spacing:0.000px;white-space:pre" fill="#111" stroke="#111" stroke-width="0.2">3</text>
<text transform="translate(316.21,578.80) scale(1.0634,1)" font-size="12.8" font-weight="400" style="letter-spacing:0.000px;white-space:pre" fill="#111" stroke="#111" stroke-width="0.2">2</text>
<text transform="translate(317.59,636.90) scale(0.7387,1)" font-size="12.8" font-weight="400" style="letter-spacing:0.000px;white-space:pre" fill="#111" stroke="#111" stroke-width="0.2">1</text>
<text transform="translate(318.91,697.10) scale(1.0936,1)" font-size="12.8" font-weight="400" style="letter-spacing:0.000px;white-space:pre" fill="#111" stroke="#111" stroke-width="0.2">0</text>
<text transform="translate(288.40,637.20) rotate(-90)" font-size="14.2" font-weight="400" text-anchor="start" textLength="16.20" lengthAdjust="spacingAndGlyphs" fill="#111" stroke="#111" stroke-width="0.5" style="white-space:pre">AA</text>
<text transform="translate(288.40,613.50) rotate(-90)" font-size="14.2" font-weight="400" text-anchor="start" textLength="50.60" lengthAdjust="spacingAndGlyphs" fill="#111" stroke="#111" stroke-width="0.5" style="white-space:pre">release</text>
<line x1="308.70" y1="593.60" x2="298.70" y2="587.00" stroke="#111" stroke-width="1.3" />
<text transform="translate(309.00,669.00) rotate(-90) translate(-0.93,0) scale(1.0542,1)" font-size="14.2" font-weight="400" style="letter-spacing:0.484px;white-space:pre" fill="#111" stroke="#111" stroke-width="0.3">(cpmx</text>
<text transform="translate(309.00,623.90) rotate(-90) translate(-1.14,0) scale(1.0544,1)" font-size="14.2" font-weight="400" style="letter-spacing:0.731px;white-space:pre" fill="#111" stroke="#111" stroke-width="0.3">10</text>
<text transform="translate(305.00,606.11) rotate(-90) translate(-0.66,0) scale(1.4150,1)" font-size="10.5" font-weight="400" style="letter-spacing:0.000px;white-space:pre" fill="#111" stroke="#111" stroke-width="0.3">-</text>
<text transform="translate(305.00,600.03) rotate(-90) translate(-0.39,0) scale(0.9767,1)" font-size="10.5" font-weight="400" style="letter-spacing:0.000px;white-space:pre" fill="#111" stroke="#111" stroke-width="0.3">3</text>
<text transform="translate(309.00,583.80) rotate(-90) translate(-1.11,0) scale(1.0297,1)" font-size="14.2" font-weight="400" style="letter-spacing:0.409px;white-space:pre" fill="#111" stroke="#111" stroke-width="0.3">10</text>
<text transform="translate(305.00,566.29) rotate(-90) translate(-0.54,0) scale(1.0074,1)" font-size="10.5" font-weight="400" style="letter-spacing:0.000px;white-space:pre" fill="#111" stroke="#111" stroke-width="0.3">6</text>
<text transform="translate(309.00,558.70) rotate(-90) translate(-0.64,0) scale(1.0687,1)" font-size="14.2" font-weight="400" style="letter-spacing:0.407px;white-space:pre" fill="#111" stroke="#111" stroke-width="0.3">cells)</text>
<rect x="379" y="590.4" width="34.5" height="101" fill="#fff" stroke="#111" stroke-width="1.2"/>
<line x1="396.00" y1="590.40" x2="396.00" y2="587.20" stroke="#111" stroke-width="1.2" />
<line x1="387.60" y1="587.20" x2="404.40" y2="587.20" stroke="#111" stroke-width="1.3" />
<rect x="413.5" y="628.8" width="34.6" height="62" fill="url(#h1)" stroke="#111" stroke-width="1.0"/>
<line x1="431.00" y1="628.80" x2="431.00" y2="627.00" stroke="#111" stroke-width="1.2" />
<line x1="422.00" y1="627.00" x2="440.00" y2="627.00" stroke="#111" stroke-width="1.3" />
<rect x="447.6" y="526.6" width="34.6" height="164.6" fill="#060606" stroke="#060606" stroke-width="0.8"/>
<rect x="450.6" y="530.2" width="29.6" height="0.9" fill="#262626"/>
<rect x="450.6" y="536.5" width="29.6" height="0.9" fill="#262626"/>
<rect x="450.6" y="542.8" width="29.6" height="0.9" fill="#262626"/>
<rect x="450.6" y="549.1" width="29.6" height="0.9" fill="#262626"/>
<rect x="450.6" y="555.4" width="29.6" height="0.9" fill="#262626"/>
<rect x="450.6" y="561.7" width="29.6" height="0.9" fill="#262626"/>
<rect x="450.6" y="568.0" width="29.6" height="0.9" fill="#262626"/>
<rect x="450.6" y="574.3" width="29.6" height="0.9" fill="#262626"/>
<rect x="450.6" y="580.6" width="29.6" height="0.9" fill="#262626"/>
<rect x="450.6" y="586.9" width="29.6" height="0.9" fill="#262626"/>
<rect x="450.6" y="593.2" width="29.6" height="0.9" fill="#262626"/>
<rect x="450.6" y="599.5" width="29.6" height="0.9" fill="#262626"/>
<rect x="450.6" y="605.8" width="29.6" height="0.9" fill="#262626"/>
<rect x="450.6" y="612.1" width="29.6" height="0.9" fill="#262626"/>
<rect x="450.6" y="618.4" width="29.6" height="0.9" fill="#262626"/>
<rect x="450.6" y="624.7" width="29.6" height="0.9" fill="#262626"/>
<rect x="450.6" y="631.0" width="29.6" height="0.9" fill="#262626"/>
<rect x="450.6" y="637.3" width="29.6" height="0.9" fill="#262626"/>
<rect x="450.6" y="643.6" width="29.6" height="0.9" fill="#262626"/>
<rect x="450.6" y="649.9" width="29.6" height="0.9" fill="#262626"/>
<rect x="450.6" y="656.2" width="29.6" height="0.9" fill="#262626"/>
<rect x="450.6" y="662.5" width="29.6" height="0.9" fill="#262626"/>
<rect x="450.6" y="668.8" width="29.6" height="0.9" fill="#262626"/>
<rect x="450.6" y="675.1" width="29.6" height="0.9" fill="#262626"/>
<rect x="450.6" y="681.4" width="29.6" height="0.9" fill="#262626"/>
<rect x="450.6" y="687.7" width="29.6" height="0.9" fill="#262626"/>
<line x1="464.50" y1="526.60" x2="464.50" y2="522.60" stroke="#111" stroke-width="1.2" />
<line x1="455.80" y1="522.60" x2="472.80" y2="522.60" stroke="#111" stroke-width="1.3" />
<rect x="482.8" y="622.6" width="34.4" height="68" fill="url(#h2)" stroke="#111" stroke-width="1.2"/>
<rect x="338.5" y="503.8" width="100.7" height="59.7" fill="#fff" stroke="#222" stroke-width="1.2"/>
<rect x="344.6" y="509.2" width="7.3" height="7.1" fill="#fff" stroke="#111" stroke-width="1.1"/>
<rect x="344.6" y="522.9" width="7.3" height="7.1" fill="url(#h1)" stroke="#111" stroke-width="1.1"/>
<rect x="344.1" y="536.1" width="8.3" height="8.2" fill="#0d0d0d"/>
<rect x="344.6" y="550.5" width="7.3" height="7.1" fill="url(#h2)" stroke="#111" stroke-width="1.1"/>
<text transform="translate(361.18,516.50) scale(1.0094,1)" font-size="9.2" font-weight="700" style="letter-spacing:0.083px;white-space:pre" fill="#111" >DMSO</text>
<text x="361.80" y="529.60" font-size="9.2" font-weight="700" text-anchor="start" textLength="53.00" lengthAdjust="spacingAndGlyphs" fill="#111" style="white-space:pre">1 <tspan font-weight="400">μ</tspan>M  MAFP</text>
<text transform="translate(361.18,543.40) scale(1.0013,1)" font-size="9.2" font-weight="700" style="letter-spacing:0.008px;white-space:pre" fill="#111" >DMSO + GM-CSF</text>
<text transform="translate(361.18,557.10) scale(1.0092,1)" font-size="9.2" font-weight="700" style="letter-spacing:0.055px;white-space:pre" fill="#111" >MAFP + GM-CSF</text>
</svg></body></html>
